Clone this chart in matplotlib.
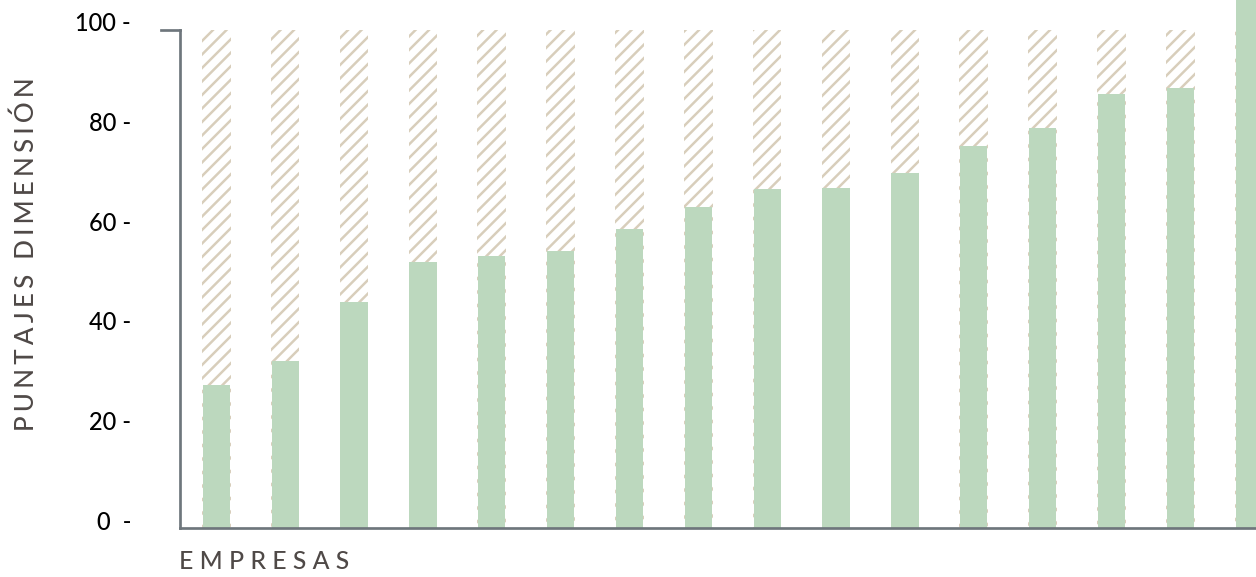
import matplotlib
matplotlib.use("Agg")
import matplotlib.pyplot as plt
import numpy as np
from matplotlib.transforms import ScaledTranslation, blended_transform_factory

# ---- data -------------------------------------------------------------
empresas = [f"E{i}" for i in range(1, 17)]
puntajes = [28.7, 33.5, 45.4, 53.4, 54.6, 55.6, 60.0, 64.5,
            68.1, 68.3, 71.3, 76.7, 80.3, 87.1, 88.4, 106.0]
puntaje_max = [100] * 16
y_ticks = [0, 20, 40, 60, 80, 100]
y_tick_labels = ["0  -", "20 -", "40 -", "60 -", "80 -", "100 -"]
x_title = "EMPRESAS"
y_title = "PUNTAJES DIMENSIÓN"

# ---- style ------------------------------------------------------------
DPI = 81
W, H = 1256, 577
GREEN = "#bcd8be"
BEIGE = "#d8cebb"
AXIS = "#6e767c"
LABEL = "#4f4947"


def tracked(text, gap):
    """Spread the letters of a title apart (letter-spacing)."""
    return gap.join(text)


plt.rcParams["font.family"] = ["Lato", "DejaVu Sans"]
plt.rcParams["hatch.linewidth"] = 2.2

fig = plt.figure(figsize=((W + 0.01) / DPI, (H + 0.01) / DPI), dpi=DPI)
ax = fig.add_axes([180 / W, 49 / H, (W - 180) / W, 528 / H])

x = np.arange(len(empresas))
bar_w = 0.396

# hatched background: the maximum attainable score
ax.bar(x, puntaje_max, width=bar_w + 0.02, facecolor="white",
       edgecolor=BEIGE, linewidth=0, hatch="//", zorder=1)
# actual scores
ax.bar(x, puntajes, width=bar_w, color=GREEN, linewidth=0, zorder=2)

ax.set_xlim(-0.527, 15.099)
ax.set_ylim(0, 106)

# spines
for s in ("top", "right"):
    ax.spines[s].set_visible(False)
for s in ("left", "bottom"):
    ax.spines[s].set_color(AXIS)
    ax.spines[s].set_linewidth(2.4)
ax.spines["left"].set_bounds(0, 100)
ax.spines["left"].set_capstyle("projecting")

# short hook at the top of the y axis
hook = blended_transform_factory(ax.transAxes, ax.transData)
ax.plot([-19 / (W - 180), 0], [100, 100], transform=hook, color=AXIS,
        lw=2.4, clip_on=False, solid_capstyle="projecting", zorder=5)

# ticks
ax.set_xticks([])
ax.set_yticks(y_ticks, y_tick_labels)
ax.tick_params(axis="y", length=0, pad=49 * 72 / DPI, labelsize=21,
               labelcolor="black")
for lab in ax.get_yticklabels():
    lab.set_fontweight("medium")
shift = ScaledTranslation(0, 8 / DPI, fig.dpi_scale_trans)
for t in ax.yaxis.get_major_ticks():
    t.label1.set_transform(t.label1.get_transform() + shift)

# axis titles
ax.set_ylabel(tracked(y_title, "\u2006"), fontsize=23, color=LABEL,
              fontweight="medium")
ax.yaxis.set_label_coords((39 - 180) / (W - 180), (528 - 254) / 528)
ax.set_xlabel(tracked(x_title, "\u2005"), fontsize=22, color=LABEL,
              loc="left", fontweight="medium")
ax.xaxis.set_label_coords((179 - 180) / (W - 180), (528 - 550) / 528)

fig.savefig("out.png", dpi=DPI)
